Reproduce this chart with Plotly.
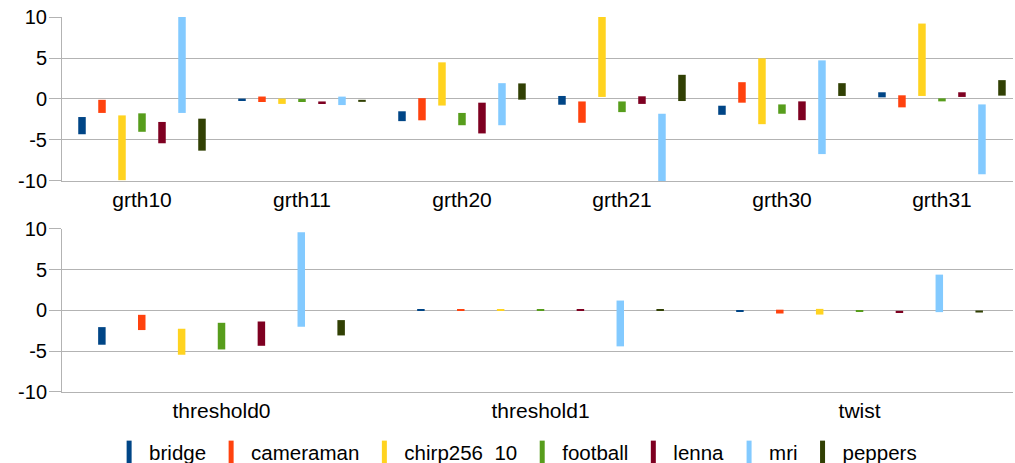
import plotly.graph_objects as go
from plotly.subplots import make_subplots

series = ["bridge", "cameraman", "chirp256_10", "football", "lenna", "mri", "peppers"]
colors = ["#004586", "#ff420e", "#ffd320", "#579d1c", "#7e0021", "#83caff", "#314004"]

top_cats = ["grth10", "grth11", "grth20", "grth21", "grth30", "grth31"]
bot_cats = ["threshold0", "threshold1", "twist"]

y_tickvals = [-10, -5, 0, 5, 10]
y_ticktext = ["-10", "-5", "0", "5", "10"]

# [low, high] per category, per series
top_low = {
    "bridge":      [-4.3, -0.15, -2.7, -0.7, -1.93, 0.2],
    "cameraman":   [-1.7, -0.37, -2.6, -2.9, -0.45, -1.02],
    "chirp256_10": [-9.9, -0.6, -0.8, 0.25, -3.07, 0.37],
    "football":    [-4.0, -0.37, -3.2, -1.6, -1.8, -0.29],
    "lenna":       [-5.4, -0.5, -4.2, -0.6, -2.58, 0.25],
    "mri":         [-1.7, -0.74, -3.2, -10.0, -6.72, -9.18],
    "peppers":     [-6.3, -0.35, -0.08, -0.25, 0.37, 0.41],
}
top_high = {
    "bridge":      [-2.2, 0.05, -1.5, 0.37, -0.82, 0.82],
    "cameraman":   [-0.1, 0.3, 0.1, -0.3, 2.05, 0.45],
    "chirp256_10": [-2.0, 0.05, 4.47, 10.0, 4.96, 9.2],
    "football":    [-1.75, 0.0, -1.7, -0.3, -0.66, 0.08],
    "lenna":       [-2.8, -0.3, -0.45, 0.33, -0.29, 0.82],
    "mri":         [10.0, 0.29, 1.93, -1.8, 4.71, -0.66],
    "peppers":     [-2.4, -0.1, 1.9, 2.95, 1.93, 2.3],
}
bot_low = {
    "bridge":      [-4.2, 0.0, -0.12],
    "cameraman":   [-2.4, 0.0, -0.37],
    "chirp256_10": [-5.43, 0.0, -0.5],
    "football":    [-4.78, 0.0, -0.12],
    "lenna":       [-4.33, 0.0, -0.25],
    "mri":         [-2.0, -4.4, -0.2],
    "peppers":     [-3.06, 0.0, -0.25],
}
bot_high = {
    "bridge":      [-2.04, 0.16, 0.0],
    "cameraman":   [-0.53, 0.16, 0.1],
    "chirp256_10": [-2.24, 0.08, 0.2],
    "football":    [-1.51, 0.16, 0.0],
    "lenna":       [-1.35, 0.16, -0.04],
    "mri":         [9.6, 1.22, 4.4],
    "peppers":     [-1.18, 0.16, 0.0],
}

fig = make_subplots(rows=2, cols=1, vertical_spacing=0.1)

step = 0.125
w_top = 0.047
w_bot = 0.0235
for i, s in enumerate(series):
    fig.add_trace(go.Bar(
        x=top_cats, base=top_low[s],
        y=[h - l for h, l in zip(top_high[s], top_low[s])],
        width=w_top, offset=(i - 3) * step - w_top / 2,
        marker=dict(color=colors[i], line=dict(width=0)),
        name=s, legendgroup=s, showlegend=False,
    ), row=1, col=1)
    fig.add_trace(go.Bar(
        x=bot_cats, base=bot_low[s],
        y=[h - l for h, l in zip(bot_high[s], bot_low[s])],
        width=w_bot, offset=(i - 3) * step - w_bot / 2,
        marker=dict(color=colors[i], line=dict(width=0)),
        name=s, legendgroup=s, showlegend=False,
    ), row=2, col=1)
    # legend key: thin vertical bar like the original
    fig.add_trace(go.Scatter(
        x=[None], y=[None], mode="markers", name=s, legendgroup=s,
        marker=dict(symbol="line-ns", size=16, color=colors[i],
                    line=dict(width=5, color=colors[i])),
        showlegend=True, hoverinfo="skip",
    ), row=1, col=1)

font = dict(family="Liberation Sans, Arial, sans-serif", size=20, color="#000000")
grid = "#b3b3b3"

yax = dict(range=[-10, 10], tickvals=y_tickvals, ticktext=y_ticktext,
           showgrid=True, gridcolor=grid, gridwidth=1,
           zeroline=False, showline=True, linecolor=grid, linewidth=1,
           ticks="outside", ticklen=12, tickcolor=grid, tickfont=dict(size=20),
           ticklabelstandoff=-2,
           automargin=False, fixedrange=True)
xax = dict(showgrid=False, zeroline=False, showline=True, linecolor=grid, linewidth=1,
           ticks="", tickfont=dict(size=21), automargin=False, fixedrange=True)

fig.update_layout(
    width=1015, height=463,
    margin=dict(l=62, r=2, t=17, b=71, autoexpand=False),
    paper_bgcolor="white", plot_bgcolor="white",
    font=font,
    barmode="overlay",
    showlegend=True,
    legend=dict(orientation="h", x=0.508, xanchor="center", xref="container",
                y=1 - 452 / 463, yanchor="middle", yref="container",
                font=dict(size=20.5), itemwidth=30, tracegroupgap=0),
    xaxis=dict(domain=[0, 1], range=[-0.5, 5.444], **xax),
    xaxis2=dict(domain=[0, 1], range=[-0.5, 2.481], **xax),
    yaxis=dict(domain=[0.5627, 1.0], **yax),
    yaxis2=dict(domain=[0.0, 0.4347], **yax),
)

fig.write_html(
    "out.html",
    config={"displayModeBar": False},
    post_script="document.body.style.margin='0';document.body.style.overflow='hidden';",
)
